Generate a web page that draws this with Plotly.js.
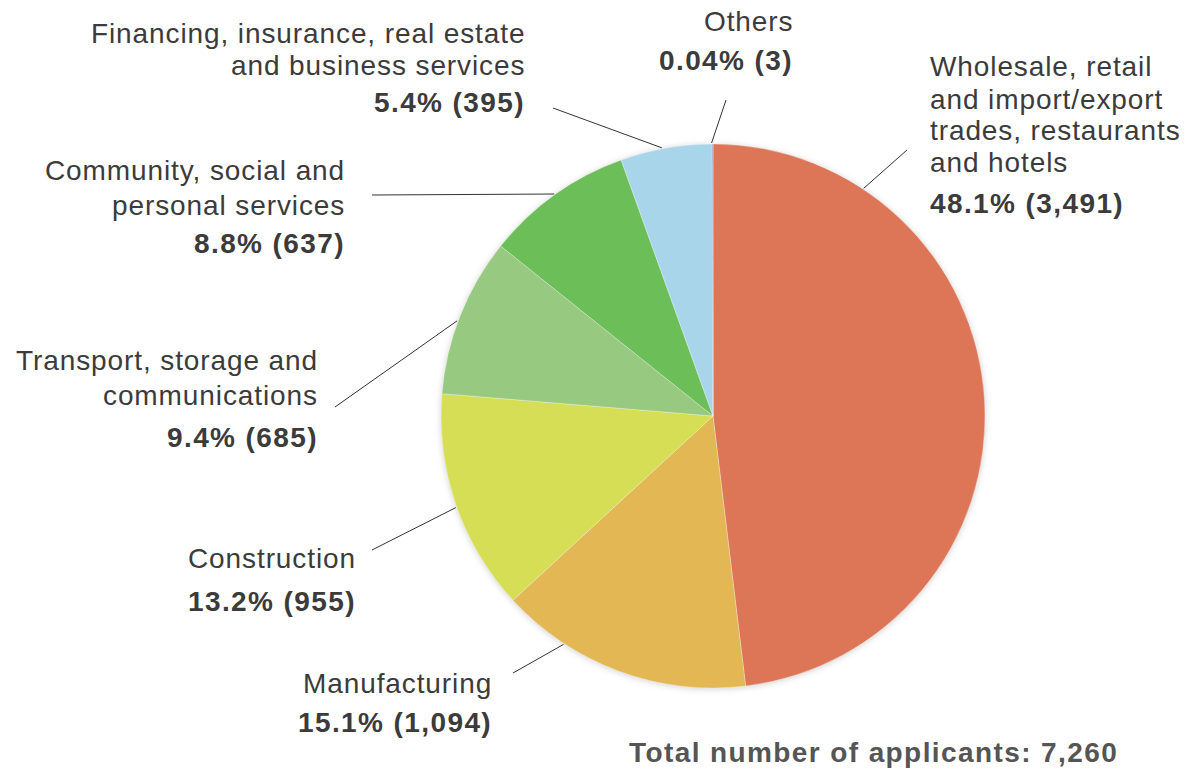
<!DOCTYPE html>
<html>
<head>
<meta charset="utf-8">
<script src="https://cdn.plot.ly/plotly-3.0.1.min.js"></script>
<style>
html,body{margin:0;padding:0;background:#fff;}
#chart{width:1196px;height:772px;}
.annotation-text{letter-spacing:0.9px;}
.annotation-text tspan[style*="bold"]{letter-spacing:1.4px;}
#chart .pielayer{filter:drop-shadow(0px 1px 3px rgba(0,0,0,0.18));}
</style>
</head>
<body>
<div id="chart"></div>
<script>
// ---- data ----
const categories = [
  "Wholesale, retail and import/export trades, restaurants and hotels",
  "Manufacturing",
  "Construction",
  "Transport, storage and communications",
  "Community, social and personal services",
  "Financing, insurance, real estate and business services",
  "Others"
];
const applicants = [3491, 1094, 955, 685, 637, 395, 3];
const labelLines = [
  ["Wholesale, retail", "and import/export", "trades, restaurants", "and hotels"],
  ["Manufacturing"],
  ["Construction"],
  ["Transport, storage and", "communications"],
  ["Community, social and", "personal services"],
  ["Financing, insurance, real estate", "and business services"],
  ["Others"]
];
const totalLabel = "Total number of applicants: ";

// ---- styling / layout ----
const colors = ["#dc7656", "#e3b753", "#d5de55", "#98c981", "#6cbf58", "#a9d5eb", "#7c6faa"];
const W = 1196, H = 772;
const cx = 713, cy = 416, R = 272;
// label placement: [anchor x px, side, first line y px, line spacing, value y px]
const labelPos = [
  [928, "left", 67, 32, 203],
  [494, "right", 683, 34, 722],
  [358, "right", 558, 34, 601],
  [320, "right", 360, 35, 437],
  [347, "right", 170, 35, 243],
  [527, "right", 33, 33, 102],
  [795, "right", 22, 34, 60]
];
// leader lines: [angle on pie (deg clockwise from top), outer end x px, outer end y px]
const leaders = [
  [33.5, 907, 150],
  [213.2, 513, 673],
  [250.4, 372, 550],
  [290.4, 335, 407],
  [324.4, 372, 195],
  [349.2, 553, 108],
  [359.7, 726, 100]
];

const px = x => x / W;
const py = y => 1 - y / H;
const total = applicants.reduce((a, b) => a + b, 0);
const fmtPct = v => { const p = v / total * 100; return (p < 0.1 ? p.toFixed(2) : p.toFixed(1)) + "%"; };
const fmtNum = v => v.toLocaleString("en-US");

const textColor = "#3b3b3b";
const fontFam = "Liberation Sans, Arial, Helvetica, sans-serif";
const FS = 28;

const annotations = [];
const shapes = [];
categories.forEach((c, i) => {
  const [ax, side, y0, sp, vy] = labelPos[i];
  labelLines[i].forEach((ln, k) => {
    annotations.push({
      x: px(ax), y: py(y0 + k * sp), xref: "paper", yref: "paper",
      xanchor: side, yanchor: "middle", showarrow: false, align: side,
      text: ln, font: {family: fontFam, size: FS, color: textColor}
    });
  });
  annotations.push({
    x: px(ax), y: py(vy), xref: "paper", yref: "paper",
    xanchor: side, yanchor: "middle", showarrow: false, align: side,
    text: "<b>" + fmtPct(applicants[i]) + " (" + fmtNum(applicants[i]) + ")</b>",
    font: {family: fontFam, size: FS, color: textColor}
  });
  const [ang, ox, oy] = leaders[i];
  const t = ang * Math.PI / 180;
  const ex = cx + (R + 1) * Math.sin(t), ey = cy - (R + 1) * Math.cos(t);
  shapes.push({
    type: "line", xref: "paper", yref: "paper",
    x0: px(ex), y0: py(ey), x1: px(ox), y1: py(oy),
    line: {color: "#333333", width: 1}
  });
});
annotations.push({
  x: px(1120), y: py(752), xref: "paper", yref: "paper",
  xanchor: "right", yanchor: "middle", showarrow: false,
  text: "<b>" + totalLabel + fmtNum(total) + "</b>",
  font: {family: fontFam, size: FS, color: "#555555"}
});

const trace = {
  type: "pie",
  labels: categories,
  values: applicants,
  sort: false,
  direction: "clockwise",
  rotation: 0,
  textinfo: "none",
  hoverinfo: "label+value+percent",
  marker: {colors: colors, line: {color: "rgba(255,255,255,0.5)", width: 0.6}},
  domain: {x: [px(cx - R), px(cx + R)], y: [py(cy + R), py(cy - R)]},
  showlegend: false
};

Plotly.newPlot("chart", [trace], {
  width: W, height: H,
  margin: {l: 0, r: 0, t: 0, b: 0},
  paper_bgcolor: "#ffffff",
  showlegend: false,
  annotations: annotations,
  shapes: shapes
}, {staticPlot: true});
</script>
</body>
</html>
